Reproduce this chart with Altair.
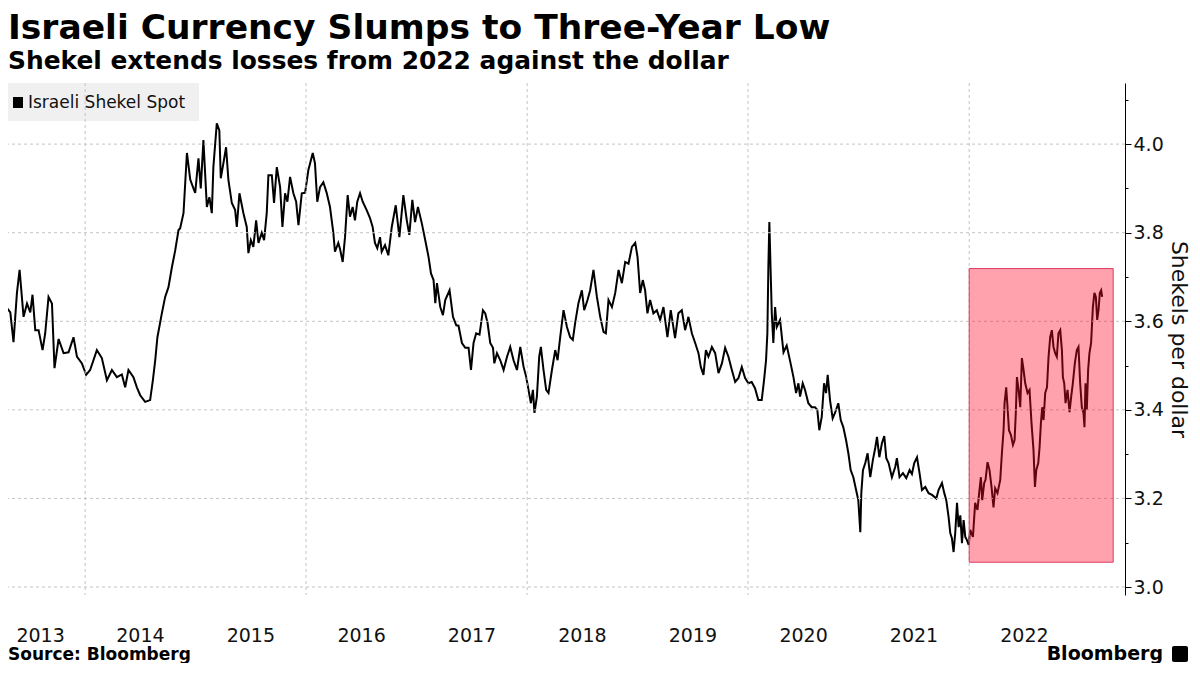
import altair as alt
import pandas as pd

# ---------------- text ----------------
TITLE = "Israeli Currency Slumps to Three-Year Low"
SUBTITLE = "Shekel extends losses from 2022 against the dollar"
SOURCE = "Source: Bloomberg"
BRAND = "Bloomberg"
SERIES = "Israeli Shekel Spot"
Y_TITLE = "Shekels per dollar"

# ---------------- series (decimal year, shekels per dollar) ----------------
T = [
    2013.231, 2013.276, 2013.322, 2013.351, 2013.382, 2013.406, 2013.442, 2013.473, 2013.503, 2013.523,
    2013.548, 2013.578, 2013.614, 2013.638, 2013.668, 2013.699, 2013.722, 2013.759, 2013.804, 2013.849,
    2013.894, 2013.925, 2013.970, 2014.009, 2014.045, 2014.106, 2014.151, 2014.197, 2014.242, 2014.287,
    2014.332, 2014.362, 2014.392, 2014.437, 2014.468, 2014.498, 2014.543, 2014.588, 2014.613, 2014.634,
    2014.654, 2014.694, 2014.724, 2014.754, 2014.785, 2014.815, 2014.845, 2014.860, 2014.890, 2014.921,
    2014.951, 2014.980, 2014.996, 2015.026, 2015.047, 2015.071, 2015.102, 2015.125, 2015.147, 2015.161,
    2015.192, 2015.215, 2015.228, 2015.252, 2015.276, 2015.297, 2015.328, 2015.358, 2015.373, 2015.397,
    2015.433, 2015.463, 2015.478, 2015.500, 2015.523, 2015.548, 2015.569, 2015.599, 2015.620, 2015.644,
    2015.659, 2015.690, 2015.710, 2015.735, 2015.765, 2015.786, 2015.810, 2015.831, 2015.855, 2015.885,
    2015.910, 2015.931, 2015.961, 2015.991, 2016.021, 2016.061, 2016.081, 2016.102, 2016.127, 2016.157,
    2016.187, 2016.217, 2016.247, 2016.262, 2016.292, 2016.308, 2016.332, 2016.353, 2016.377, 2016.398,
    2016.422, 2016.443, 2016.464, 2016.489, 2016.513, 2016.549, 2016.579, 2016.603, 2016.624, 2016.645,
    2016.670, 2016.685, 2016.715, 2016.745, 2016.776, 2016.812, 2016.845, 2016.881, 2016.912, 2016.935,
    2016.962, 2016.987, 2017.011, 2017.047, 2017.077, 2017.107, 2017.129, 2017.152, 2017.168, 2017.183,
    2017.213, 2017.237, 2017.258, 2017.297, 2017.328, 2017.358, 2017.378, 2017.409, 2017.439, 2017.469,
    2017.491, 2017.514, 2017.538, 2017.568, 2017.599, 2017.620, 2017.641, 2017.665, 2017.690, 2017.702,
    2017.726, 2017.756, 2017.786, 2017.817, 2017.846, 2017.876, 2017.907, 2017.937, 2017.967, 2017.991,
    2018.012, 2018.034, 2018.052, 2018.066, 2018.088, 2018.109, 2018.124, 2018.148, 2018.172, 2018.193,
    2018.224, 2018.254, 2018.275, 2018.299, 2018.329, 2018.360, 2018.389, 2018.413, 2018.434, 2018.464,
    2018.495, 2018.516, 2018.546, 2018.570, 2018.600, 2018.631, 2018.661, 2018.691, 2018.712, 2018.736,
    2018.767, 2018.797, 2018.827, 2018.857, 2018.887, 2018.917, 2018.948, 2018.978, 2018.999, 2019.023,
    2019.047, 2019.068, 2019.089, 2019.113, 2019.143, 2019.174, 2019.204, 2019.234, 2019.270, 2019.300,
    2019.339, 2019.369, 2019.400, 2019.430, 2019.460, 2019.491, 2019.521, 2019.551, 2019.572, 2019.596,
    2019.618, 2019.641, 2019.672, 2019.702, 2019.732, 2019.763, 2019.792, 2019.822, 2019.853, 2019.883,
    2019.913, 2019.943, 2019.973, 2020.003, 2020.033, 2020.063, 2020.093, 2020.124, 2020.145, 2020.163,
    2020.175, 2020.184, 2020.193, 2020.206, 2020.215, 2020.229, 2020.245, 2020.260, 2020.290, 2020.321,
    2020.350, 2020.381, 2020.411, 2020.435, 2020.456, 2020.471, 2020.495, 2020.516, 2020.546, 2020.576,
    2020.606, 2020.627, 2020.645, 2020.667, 2020.688, 2020.706, 2020.721, 2020.742, 2020.766, 2020.787,
    2020.817, 2020.839, 2020.862, 2020.887, 2020.908, 2020.929, 2020.953, 2020.978, 2020.998, 2021.014,
    2021.023, 2021.038, 2021.059, 2021.080, 2021.104, 2021.128, 2021.149, 2021.165, 2021.186, 2021.210,
    2021.231, 2021.249, 2021.270, 2021.300, 2021.330, 2021.345, 2021.369, 2021.400, 2021.430, 2021.460,
    2021.481, 2021.502, 2021.527, 2021.550, 2021.572, 2021.602, 2021.632, 2021.663, 2021.702, 2021.722,
    2021.753, 2021.774, 2021.792, 2021.813, 2021.828, 2021.843, 2021.858, 2021.873, 2021.889, 2021.904,
    2021.919, 2021.934, 2021.949, 2021.964, 2021.979, 2021.995, 2022.009, 2022.034, 2022.054, 2022.075,
    2022.093, 2022.106, 2022.118, 2022.136, 2022.148, 2022.166, 2022.184, 2022.202, 2022.220, 2022.235,
    2022.256, 2022.281, 2022.296, 2022.311, 2022.320, 2022.335, 2022.347, 2022.360, 2022.378, 2022.396,
    2022.411, 2022.423, 2022.432, 2022.447, 2022.462, 2022.477, 2022.492, 2022.507, 2022.528, 2022.546,
    2022.564, 2022.582, 2022.595, 2022.607, 2022.625, 2022.637, 2022.649, 2022.661, 2022.673, 2022.688,
    2022.704, 2022.718, 2022.733, 2022.748, 2022.763, 2022.778, 2022.793, 2022.808, 2022.824, 2022.839,
    2022.848, 2022.860, 2022.872, 2022.890, 2022.908, 2022.923, 2022.938, 2022.956, 2022.974, 2022.989,
    2023.005, 2023.020, 2023.035, 2023.044, 2023.053, 2023.065, 2023.077, 2023.089, 2023.104, 2023.120,
    2023.134, 2023.147, 2023.159, 2023.171, 2023.183, 2023.195, 2023.204,
]
V = [
    3.648, 3.635, 3.620, 3.553, 3.664, 3.716, 3.610, 3.640, 3.620, 3.660,
    3.580, 3.580, 3.535, 3.573, 3.655, 3.640, 3.494, 3.560, 3.528, 3.530,
    3.564, 3.520, 3.505, 3.479, 3.490, 3.535, 3.517, 3.467, 3.490, 3.474,
    3.480, 3.451, 3.490, 3.474, 3.451, 3.433, 3.418, 3.422, 3.467, 3.512,
    3.564, 3.618, 3.655, 3.677, 3.722, 3.760, 3.806, 3.810, 3.844, 3.980,
    3.920, 3.900, 3.890, 3.968, 3.900, 4.009, 3.858, 3.880, 3.844, 3.948,
    4.047, 4.031, 3.923, 3.957, 3.993, 3.919, 3.867, 3.851, 3.813, 3.889,
    3.844, 3.813, 3.754, 3.783, 3.768, 3.828, 3.777, 3.800, 3.783, 3.844,
    3.930, 3.930, 3.867, 3.948, 3.903, 3.813, 3.889, 3.870, 3.926, 3.889,
    3.870, 3.817, 3.889, 3.890, 3.941, 3.980, 3.957, 3.870, 3.903, 3.914,
    3.890, 3.858, 3.800, 3.757, 3.777, 3.763, 3.734, 3.790, 3.885, 3.836,
    3.858, 3.828, 3.870, 3.889, 3.870, 3.851, 3.833, 3.813, 3.777, 3.765,
    3.790, 3.757, 3.772, 3.749, 3.813, 3.862, 3.790, 3.885, 3.828, 3.795,
    3.874, 3.824, 3.858, 3.820, 3.783, 3.745, 3.708, 3.693, 3.641, 3.686,
    3.632, 3.614, 3.648, 3.670, 3.610, 3.591, 3.590, 3.551, 3.540, 3.540,
    3.490, 3.551, 3.573, 3.570, 3.625, 3.618, 3.596, 3.551, 3.540, 3.505,
    3.528, 3.512, 3.490, 3.520, 3.542, 3.512, 3.490, 3.542, 3.497, 3.474,
    3.445, 3.415, 3.445, 3.393, 3.430, 3.520, 3.542, 3.490, 3.445, 3.438,
    3.490, 3.535, 3.512, 3.564, 3.625, 3.587, 3.564, 3.558, 3.596, 3.641,
    3.670, 3.625, 3.648, 3.670, 3.716, 3.655, 3.610, 3.576, 3.573, 3.648,
    3.632, 3.664, 3.716, 3.686, 3.734, 3.730, 3.768, 3.777, 3.745, 3.664,
    3.693, 3.670, 3.618, 3.648, 3.618, 3.625, 3.603, 3.632, 3.564, 3.625,
    3.562, 3.618, 3.625, 3.580, 3.610, 3.573, 3.551, 3.528, 3.497, 3.479,
    3.535, 3.520, 3.542, 3.528, 3.483, 3.505, 3.540, 3.520, 3.490, 3.463,
    3.472, 3.497, 3.472, 3.460, 3.463, 3.449, 3.422, 3.422, 3.467, 3.512,
    3.573, 3.722, 3.824, 3.700, 3.618, 3.551, 3.632, 3.587, 3.603, 3.530,
    3.545, 3.510, 3.474, 3.438, 3.460, 3.430, 3.460, 3.445, 3.415, 3.406,
    3.406, 3.400, 3.354, 3.384, 3.460, 3.438, 3.479, 3.422, 3.381, 3.393,
    3.415, 3.377, 3.361, 3.332, 3.302, 3.264, 3.248, 3.219, 3.196, 3.124,
    3.212, 3.264, 3.280, 3.302, 3.248, 3.287, 3.314, 3.339, 3.293, 3.325,
    3.341, 3.291, 3.280, 3.248, 3.271, 3.291, 3.248, 3.257, 3.246, 3.264,
    3.255, 3.280, 3.293, 3.257, 3.219, 3.226, 3.212, 3.208, 3.200, 3.219,
    3.235, 3.212, 3.196, 3.158, 3.122, 3.110, 3.079, 3.122, 3.190, 3.135,
    3.162, 3.099, 3.151, 3.113, 3.106, 3.095, 3.129, 3.113, 3.190, 3.174,
    3.219, 3.248, 3.196, 3.235, 3.242, 3.282, 3.264, 3.226, 3.180, 3.223,
    3.212, 3.242, 3.302, 3.354, 3.415, 3.451, 3.406, 3.354, 3.343, 3.321,
    3.332, 3.400, 3.474, 3.445, 3.406, 3.517, 3.490, 3.460, 3.438, 3.445,
    3.370, 3.309, 3.226, 3.264, 3.280, 3.316, 3.370, 3.406, 3.377, 3.438,
    3.451, 3.519, 3.564, 3.580, 3.542, 3.528, 3.520, 3.573, 3.580, 3.535,
    3.474, 3.460, 3.415, 3.445, 3.395, 3.430, 3.460, 3.505, 3.535, 3.542,
    3.460, 3.406, 3.393, 3.361, 3.460, 3.400, 3.490, 3.528, 3.551, 3.632,
    3.664, 3.655, 3.603, 3.625, 3.664, 3.670, 3.655,
]

# ---------------- axis / annotation values ----------------
GRID_DATES = ["2014-01-01", "2016-01-01", "2018-01-01", "2020-01-01", "2022-01-01"]
Y_GRID = [3.0, 3.2, 3.4, 3.6, 3.8, 4.0]
Y_TICKS = [3.0, 3.1, 3.2, 3.3, 3.4, 3.5, 3.6, 3.7, 3.8, 3.9, 4.0, 4.1]
X_LABEL_DATES = [(2013, 8, 5), (2014, 7, 1), (2015, 7, 1), (2016, 7, 1), (2017, 7, 1),
                 (2018, 7, 1), (2019, 7, 1), (2020, 7, 1), (2021, 7, 1), (2022, 7, 1)]
X_DOMAIN = [(2013, 4, 21), (2023, 5, 31)]
Y_DOMAIN = [2.982, 4.138]
HIGHLIGHT_START = ["2022-01-01"]
HIGHLIGHT_END = ["2023-04-22"]
HIGHLIGHT_LOW = [3.056]
HIGHLIGHT_HIGH = [3.719]


def to_ts(t):
    y = int(t)
    return pd.Timestamp(year=y, month=1, day=1) + pd.Timedelta(days=(t - y) * 365.25)


df = pd.DataFrame({"date": [to_ts(t) for t in T], "value": V, "series": SERIES})
grid_x = pd.DataFrame({"gdate": pd.to_datetime(GRID_DATES)})
grid_y = pd.DataFrame({"gval": Y_GRID})
hl = pd.DataFrame({
    "start": pd.to_datetime(HIGHLIGHT_START),
    "end": pd.to_datetime(HIGHLIGHT_END),
    "lo": HIGHLIGHT_LOW,
    "hi": HIGHLIGHT_HIGH,
})

W, H = 1117, 512
FONT = "DejaVu Sans"
GRID_COLOR = "#c4c4c4"

x_scale = alt.Scale(domain=[alt.DateTime(year=a, month=b, date=c) for a, b, c in X_DOMAIN])
y_scale = alt.Scale(domain=Y_DOMAIN, nice=False, zero=False)

even = "round(datum.value * 10) % 2 == 0"

# legend drawn by hand so that it sits beneath the grid, as in the reference
legend_box = alt.Chart(pd.DataFrame({"k": [0]})).mark_rect(color="#f0f0f0").encode(
    x=alt.value(0), x2=alt.value(191), y=alt.value(0), y2=alt.value(38)
)
legend_sym = alt.Chart(pd.DataFrame({"k": [0]})).mark_rect(color="#000000").encode(
    x=alt.value(5), x2=alt.value(15), y=alt.value(14), y2=alt.value(25)
)
legend_txt = alt.Chart(pd.DataFrame({"t": [SERIES]})).mark_text(
    align="left", baseline="alphabetic", font=FONT, fontSize=17, color="#111111"
).encode(text="t:N", x=alt.value(20), y=alt.value(25))

grid_v = alt.Chart(grid_x).mark_rule(color=GRID_COLOR, strokeDash=[3, 3], strokeWidth=1).encode(
    x=alt.X("gdate:T", scale=x_scale, title=None)
)
grid_h = alt.Chart(grid_y).mark_rule(color=GRID_COLOR, strokeDash=[3, 3], strokeWidth=1).encode(
    y=alt.Y("gval:Q", scale=y_scale, title=Y_TITLE)
)

line = alt.Chart(df).mark_line(strokeWidth=2, clip=True).encode(
    x=alt.X(
        "date:T",
        scale=x_scale,
        title=None,
        axis=alt.Axis(
            values=[alt.DateTime(year=a, month=b, date=c) for a, b, c in X_LABEL_DATES],
            format="%Y",
            grid=False,
            domain=False,
            ticks=False,
            tickSize=0,
            labelPadding=31,
            labelFont=FONT,
            labelFontSize=19,
            labelColor="#111111",
            labelOverlap=False,
            labelFlush=False,
        ),
    ),
    y=alt.Y(
        "value:Q",
        scale=y_scale,
        title=Y_TITLE,
        axis=alt.Axis(
            title=Y_TITLE,
            orient="right",
            values=Y_TICKS,
            labelExpr=f"{even} ? format(datum.value, '.1f') : ''",
            grid=False,
            domain=True,
            domainColor="#000000",
            domainWidth=1,
            ticks=True,
            tickColor="#000000",
            tickSize={"condition": {"test": even, "value": 6}, "value": 3},
            labelPadding=2,
            labelFont=FONT,
            labelFontSize=19,
            labelColor="#111111",
            titleFont=FONT,
            titleFontSize=22,
            titleFontWeight="normal",
            titleColor="#111111",
            titlePadding=3,
            titleAngle=90,
        ),
    ),
    color=alt.Color("series:N", scale=alt.Scale(range=["#000000"]), legend=None),
)

rect = alt.Chart(hl).mark_rect(
    fill="#ff0a28", fillOpacity=0.38, stroke="#dc3c64", strokeWidth=1
).encode(
    x=alt.X("start:T", scale=x_scale, title=None),
    x2="end:T",
    y=alt.Y("lo:Q", scale=y_scale, title=Y_TITLE),
    y2="hi:Q",
)


def text_layer(txt, x, y, size, weight="bold", align="left"):
    return alt.Chart(pd.DataFrame({"t": [txt]})).mark_text(
        align=align, baseline="alphabetic", font=FONT, fontSize=size,
        fontWeight=weight, color="#000000"
    ).encode(text="t:N", x=alt.value(x), y=alt.value(y))


title = text_layer(TITLE, 0, -44, 34.5)
subtitle = text_layer(SUBTITLE, 0, -14, 24.9)
source = text_layer(SOURCE, 0, 577, 17)
brand = text_layer(BRAND, 1155, 577, 19, align="right")
icon = alt.Chart(pd.DataFrame({"k": [0]})).mark_rect(color="#000000", cornerRadius=2).encode(
    x=alt.value(1164), x2=alt.value(1180), y=alt.value(563), y2=alt.value(579)
)

chart = alt.layer(
    line, legend_box, legend_sym, legend_txt, grid_v, grid_h, rect,
    title, subtitle, source, brand, icon
).properties(
    width=W,
    height=H,
    autosize=alt.AutoSizeParams(type="none"),
    padding={"left": 0, "top": 75, "right": 67, "bottom": 68},
    background="white",
).configure_view(stroke=None)

chart.save("out.html", embed_options={"renderer": "svg", "actions": False})
